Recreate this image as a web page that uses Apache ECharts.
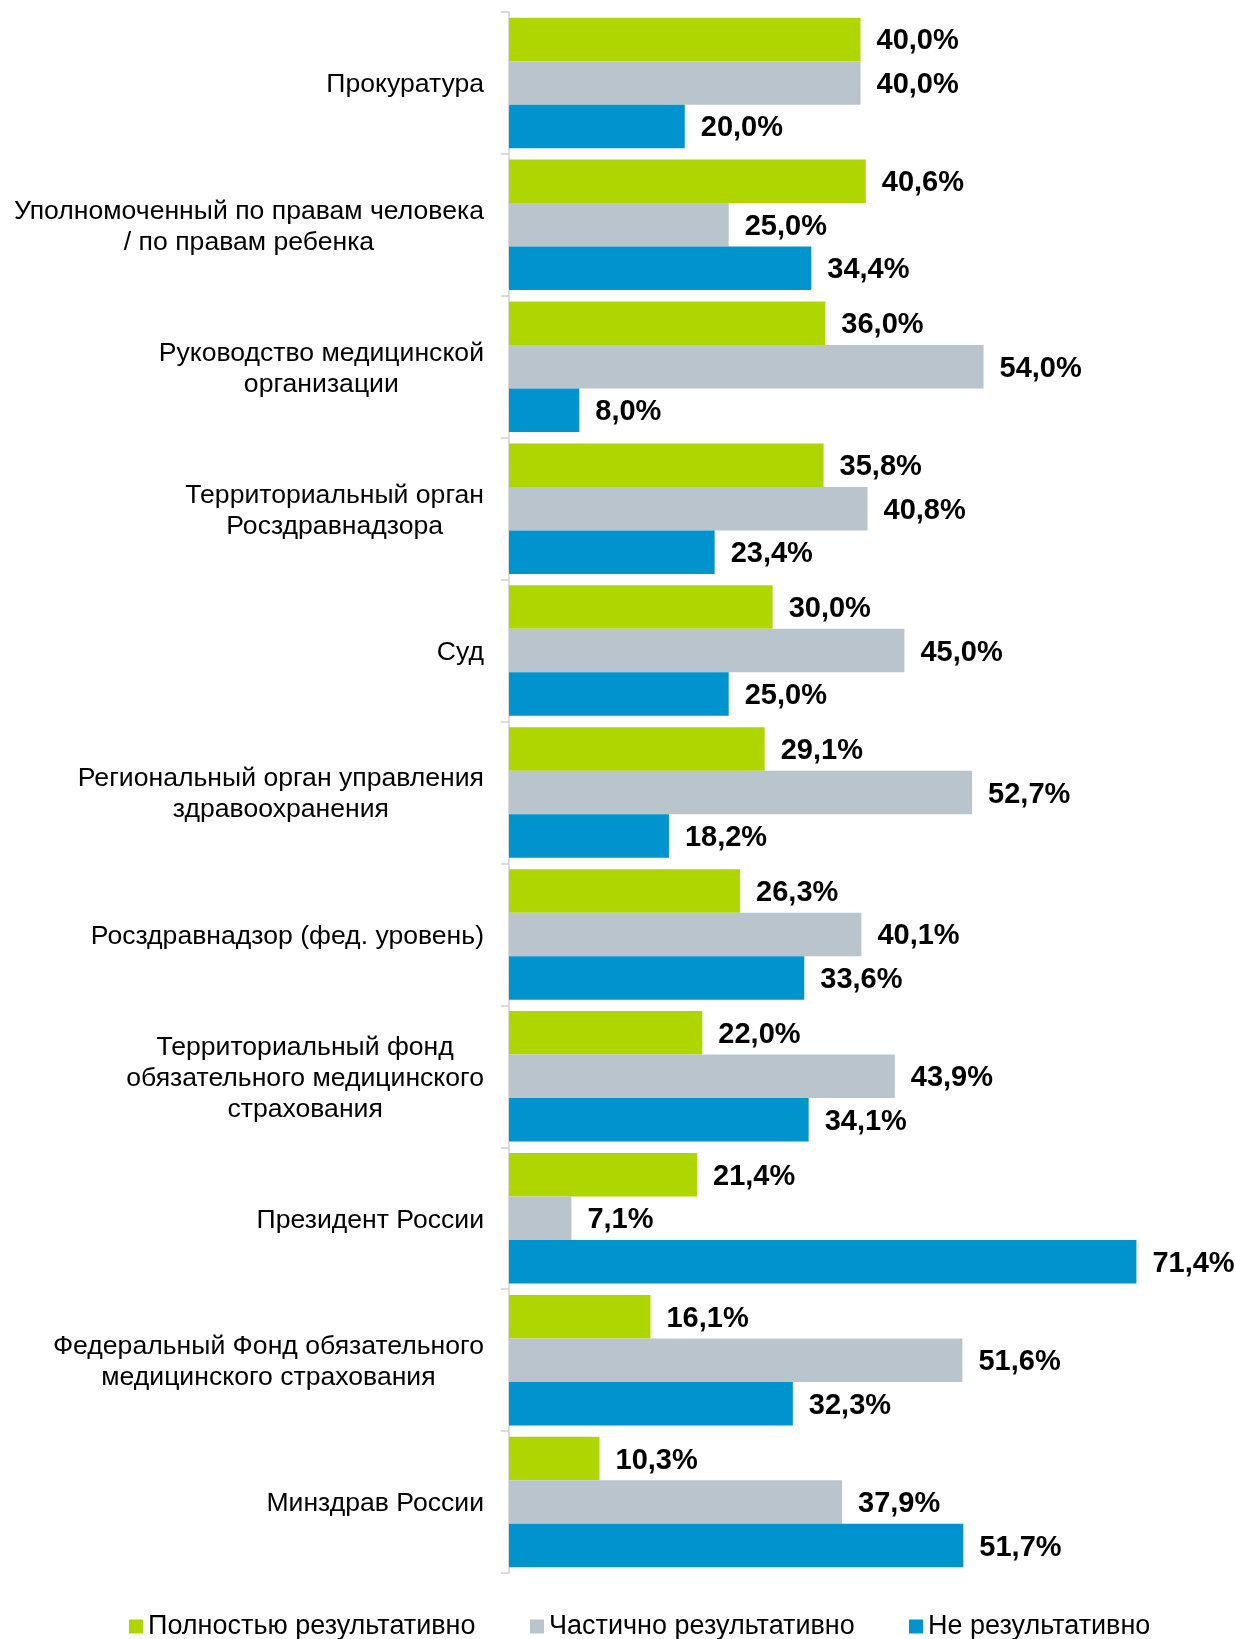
<!DOCTYPE html>
<html>
<head>
<meta charset="utf-8">
<script src="https://cdn.jsdelivr.net/npm/echarts@6/dist/echarts.min.js"></script>
<style>
  html, body { margin: 0; padding: 0; background: #fff; }
  #chart { width: 1235px; height: 1639px; }
</style>
</head>
<body>
<div id="chart"></div>
<script>
const categories = [
    'Прокуратура',
    'Уполномоченный по правам человека\n/ по правам ребенка',
    'Руководство медицинской\nорганизации',
    'Территориальный орган\nРосздравнадзора',
    'Суд',
    'Региональный орган управления\nздравоохранения',
    'Росздравнадзор (фед. уровень)',
    'Территориальный фонд\nобязательного медицинского\nстрахования',
    'Президент России',
    'Федеральный Фонд обязательного\nмедицинского страхования',
    'Минздрав России'
];
const seriesNames = ['Полностью результативно', 'Частично результативно', 'Не результативно'];
const fullValues = [40.0, 40.6, 36.0, 35.8, 30.0, 29.1, 26.3, 22.0, 21.4, 16.1, 10.3];
const partValues = [40.0, 25.0, 54.0, 40.8, 45.0, 52.7, 40.1, 43.9, 7.1, 51.6, 37.9];
const noneValues = [20.0, 34.4, 8.0, 23.4, 25.0, 18.2, 33.6, 34.1, 71.4, 32.3, 51.7];
const colors = ['#AFD600', '#BAC4CC', '#0093CE'];

const font = '"Liberation Sans", Arial, sans-serif';
const chart = echarts.init(document.getElementById('chart'), null, {renderer: 'canvas'});

// подпись значения: 40,0%
function fmtValue(p) {
    return p.value.toFixed(1).replace('.', ',') + '%';
}

function makeSeries(name, data, color) {
    return {
        name: name,
        type: 'bar',
        data: data,
        barWidth: 43.5,
        barGap: '0%',
        itemStyle: {color: color},
        label: {
            show: true,
            position: 'right',
            distance: 16,
            offset: [0, 2],
            formatter: fmtValue,
            color: '#000',
            fontFamily: font,
            fontWeight: 'bold',
            fontSize: 29
        }
    };
}

// отдельная легенда на каждую серию, чтобы выставить позиции как в оригинале
const legendLeft = [124, 525, 904];
const legends = seriesNames.map(function (n, i) {
    return {
        data: [n],
        left: legendLeft[i],
        top: 1608,
        itemWidth: 14,
        itemHeight: 14,
        icon: 'rect',
        textStyle: {fontFamily: font, fontSize: 27, color: '#000'}
    };
});

const option = {
    animation: false,
    backgroundColor: '#fff',
    color: colors,
    grid: {left: 509, right: 23, top: 12, bottom: 66, containLabel: false},
    legend: legends,
    xAxis: {
        type: 'value',
        min: 0,
        max: 80,
        show: false
    },
    yAxis: {
        type: 'category',
        inverse: true,
        data: categories,
        axisLine: {show: true, lineStyle: {color: '#D0D0D0', width: 1.5}},
        axisTick: {show: true, length: 8, lineStyle: {color: '#D0D0D0', width: 1.5}},
        axisLabel: {
            margin: 25,
            padding: [4, 0, 0, 0],
            formatter: function (v) {
                return v.split('\n').map(function (l) { return '{c|' + l + '}'; }).join('\n');
            },
            rich: {
                c: {align: 'center', fontFamily: font, fontSize: 26.6, lineHeight: 31, color: '#000'}
            }
        }
    },
    series: [
        makeSeries(seriesNames[0], fullValues, colors[0]),
        makeSeries(seriesNames[1], partValues, colors[1]),
        makeSeries(seriesNames[2], noneValues, colors[2])
    ]
};

chart.setOption(option);
</script>
</body>
</html>
